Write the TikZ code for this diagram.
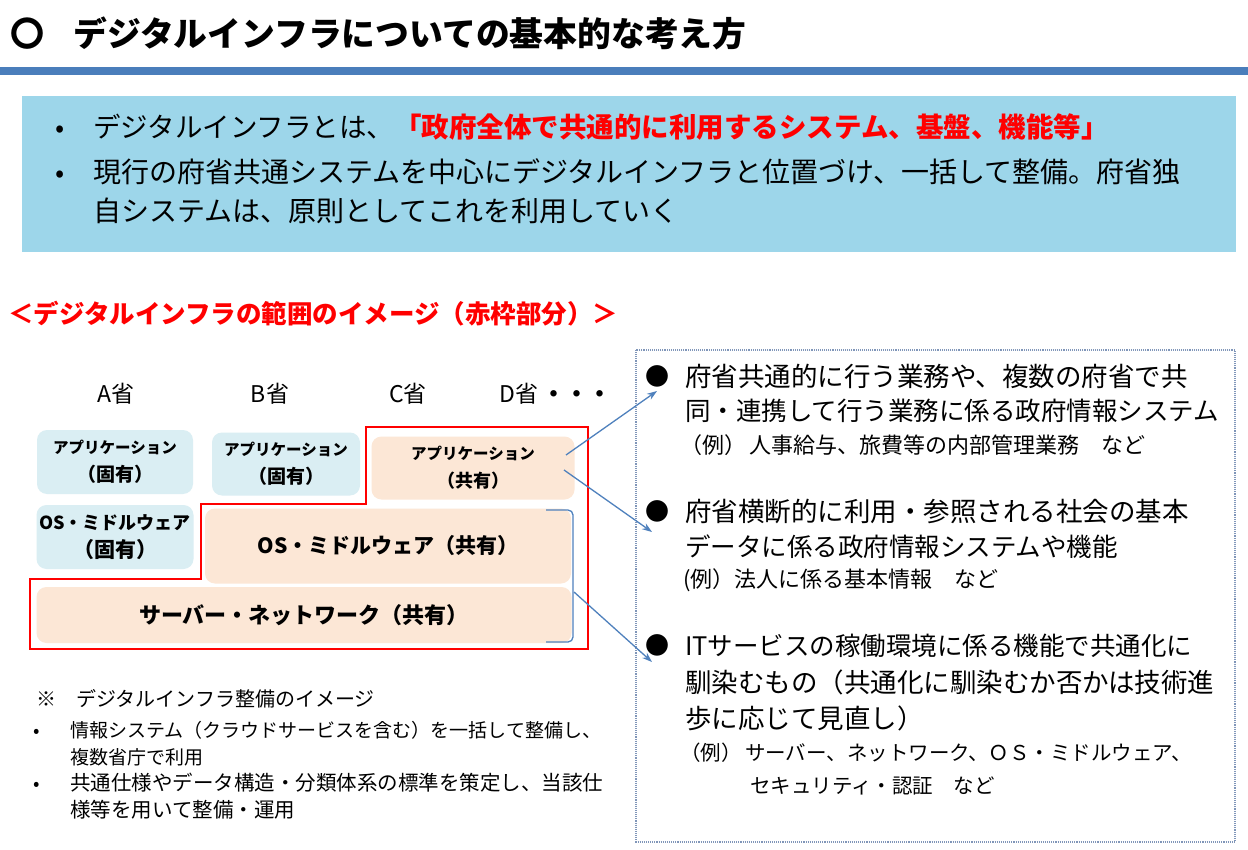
\documentclass[tikz,border=0pt]{standalone}
\usepackage{fontspec}
\setmainfont{Noto Sans CJK JP}
\usetikzlibrary{arrows.meta}
\definecolor{hdrblue}{RGB}{74,126,187}
\definecolor{skyb}{RGB}{157,214,234}
\definecolor{lblue}{RGB}{218,238,243}
\definecolor{peach}{RGB}{252,231,214}
\definecolor{arrblue}{RGB}{79,129,189}
\definecolor{dotc}{RGB}{128,150,185}
\definecolor{redc}{RGB}{255,0,0}
\newcommand{\myfs}[2]{\fontsize{#1}{#2}\selectfont}
\begin{document}
\begin{tikzpicture}[x=1pt,y=-1pt,
  txt/.style={anchor=base west, inner sep=0pt, text=black},
  blk/.style={rounded corners=10pt, inner sep=0pt, align=center, font=\bfseries},
  fixbox/.style={blk, fill=lblue},
  shbox/.style={blk, fill=peach},
  arr/.style={draw=arrblue, line width=1.3pt, -{Stealth[length=10pt,width=7pt]}},
  bul/.style={anchor=base, inner sep=0pt, text=black}]
\useasboundingbox (0,0) rectangle (1248,850);
\fill[white] (0,0) rectangle (1248,850);

% title
\node[bul, font=\myfs{34}{34}\bfseries] (circ) at (27,47) {〇};
\node[txt, font=\myfs{33.8}{33}\bfseries] (title) at (73,47) {デジタルインフラについての基本的な考え方};
\fill[hdrblue] (0,67) rectangle (1248,75);

% top box
\fill[skyb] (22,96) rectangle (1236,252);
\node[bul, font=\myfs{27}{27}] (b1) at (60,138) {•};
\node[txt, font=\myfs{27.5}{27}] (t1) at (93,138) {デジタルインフラとは、\textcolor{redc}{\bfseries 「政府全体で共通的に利用するシステム、基盤、機能等」}};
\node[bul, font=\myfs{27}{27}] (b2) at (60,183) {•};
\node[txt, font=\myfs{28}{27}] (t2) at (93,183) {現行の府省共通システムを中心にデジタルインフラと位置づけ、一括して整備。府省独};
\node[txt, font=\myfs{28}{27}] (t3) at (93,222) {自システムは、原則としてこれを利用していく};

% section header
\node[txt, text=redc, font=\myfs{25.5}{25}\bfseries] (sec) at (8,324) {＜デジタルインフラの範囲のイメージ（赤枠部分）＞};

% column labels
\node[bul, font=\myfs{23}{23}] (colA) at (116,402) {A省};
\node[bul, font=\myfs{23}{23}] (colB) at (270,402) {B省};
\node[bul, font=\myfs{23}{23}] (colC) at (408,402) {C省};
\node[txt, font=\myfs{23}{23}] (colD) at (499,402) {D省\hspace{4pt}\textbf{・・・}};

% boxes
\node[fixbox, minimum width=156pt, minimum height=64pt, font=\myfs{15.5}{28}\bfseries] (appA) at (115,462) {アプリケーション\\\myfs{19}{28}（固有）};
\node[fixbox, minimum width=148pt, minimum height=63pt, font=\myfs{15.5}{28}\bfseries] (appB) at (286,464) {アプリケーション\\\myfs{19}{28}（固有）};
\node[shbox, minimum width=203pt, minimum height=63pt, font=\myfs{15.5}{28}\bfseries] (appC) at (473,468) {アプリケーション\\\myfs{18}{28}（共有）};
\node[fixbox, minimum width=157pt, minimum height=64pt, font=\myfs{18}{28}\bfseries] (osA) at (115,537) {OS・ミドルウェア\\\myfs{21}{28}（固有）};
\node[shbox, minimum width=366pt, minimum height=75pt, font=\myfs{21}{21}\bfseries] (osS) at (388,546) {OS・ミドルウェア（共有）};
\node[shbox, minimum width=535pt, minimum height=56pt, font=\myfs{22}{21}\bfseries] (srv) at (304,615) {サーバー・ネットワーク（共有）};

% red frame
\draw[redc, line width=2.4pt] (366,427) -- (588,427) -- (588,649) -- (30,649) -- (30,579) -- (201,579) -- (201,504) -- (366,504) -- cycle;

% bracket
\draw[arrblue, line width=1.3pt] (546,510) -- (568,510) to[out=0,in=90] (573,515) -- (573,637) to[out=-90,in=0] (568,642) -- (546,642);

% dotted box
\draw[dotc, densely dotted, line width=1.1pt] (636,350) rectangle (1235,842);

% arrows
\coordinate (s1) at (566,455);
\coordinate (e1) at (657,391);
\coordinate (s2) at (564,470);
\coordinate (e2) at (652,532);
\coordinate (s3) at (574,592);
\coordinate (e3) at (652,662);
\draw[arr] (s1) -- (e1);
\draw[arr] (s2) -- (e2);
\draw[arr] (s3) -- (e3);

% right block 1
\node[bul, font=\myfs{24}{24}] (r1b) at (657,385) {●};
\node[txt, font=\myfs{26.5}{26}] (r1a) at (685,386) {府省共通的に行う業務や、複数の府省で共};
\node[txt, font=\myfs{25.5}{26}] (r1c) at (685,420) {同・連携して行う業務に係る政府情報システム};
\node[txt, font=\myfs{22}{22}] (r1d) at (680,453) {（例）\,人事給与、旅費等の内部管理業務　など};

% right block 2
\node[bul, font=\myfs{24}{24}] (r2b) at (657,520) {●};
\node[txt, font=\myfs{26.5}{26}] (r2a) at (685,521) {府省横断的に利用・参照される社会の基本};
\node[txt, font=\myfs{25.5}{26}] (r2c) at (685,556) {データに係る政府情報システムや機能};
\node[txt, font=\myfs{22}{22}] (r2d) at (683,587) {(例）法人に係る基本情報　など};

% right block 3
\node[bul, font=\myfs{24}{24}] (r3b) at (657,654) {●};
\node[txt, font=\myfs{25.5}{26}] (r3a) at (685,655) {ITサービスの稼働環境に係る機能で共通化に};
\node[txt, font=\myfs{26.5}{26}] (r3c) at (685,692) {馴染むもの（共通化に馴染むか否かは技術進};
\node[txt, font=\myfs{26.5}{26}] (r3d) at (685,728) {歩に応じて見直し）};
\node[txt, font=\myfs{20.5}{20}] (r3e) at (680,760) {（例）\,サーバー、ネットワーク、ＯＳ・ミドルウェア、};
\node[txt, font=\myfs{20.5}{20}] (r3f) at (750,793) {セキュリティ・認証　など};

% bottom notes
\node[txt, font=\myfs{20}{20}] (n0) at (36,706) {※　デジタルインフラ整備のイメージ};
\node[bul, font=\myfs{19}{19}] (nb1) at (37,737) {•};
\node[txt, font=\myfs{19}{19}] (n1) at (70,737) {情報システム（クラウドサービスを含む）を一括して整備し、};
\node[txt, font=\myfs{19}{19}] (n2) at (70,764) {複数省庁で利用};
\node[bul, font=\myfs{19}{19}] (nb2) at (37,790) {•};
\node[txt, font=\myfs{20.5}{19}] (n3) at (70,790) {共通仕様やデータ構造・分類体系の標準を策定し、当該仕};
\node[txt, font=\myfs{20.5}{19}] (n4) at (70,817) {様等を用いて整備・運用};
\end{tikzpicture}
\end{document}
